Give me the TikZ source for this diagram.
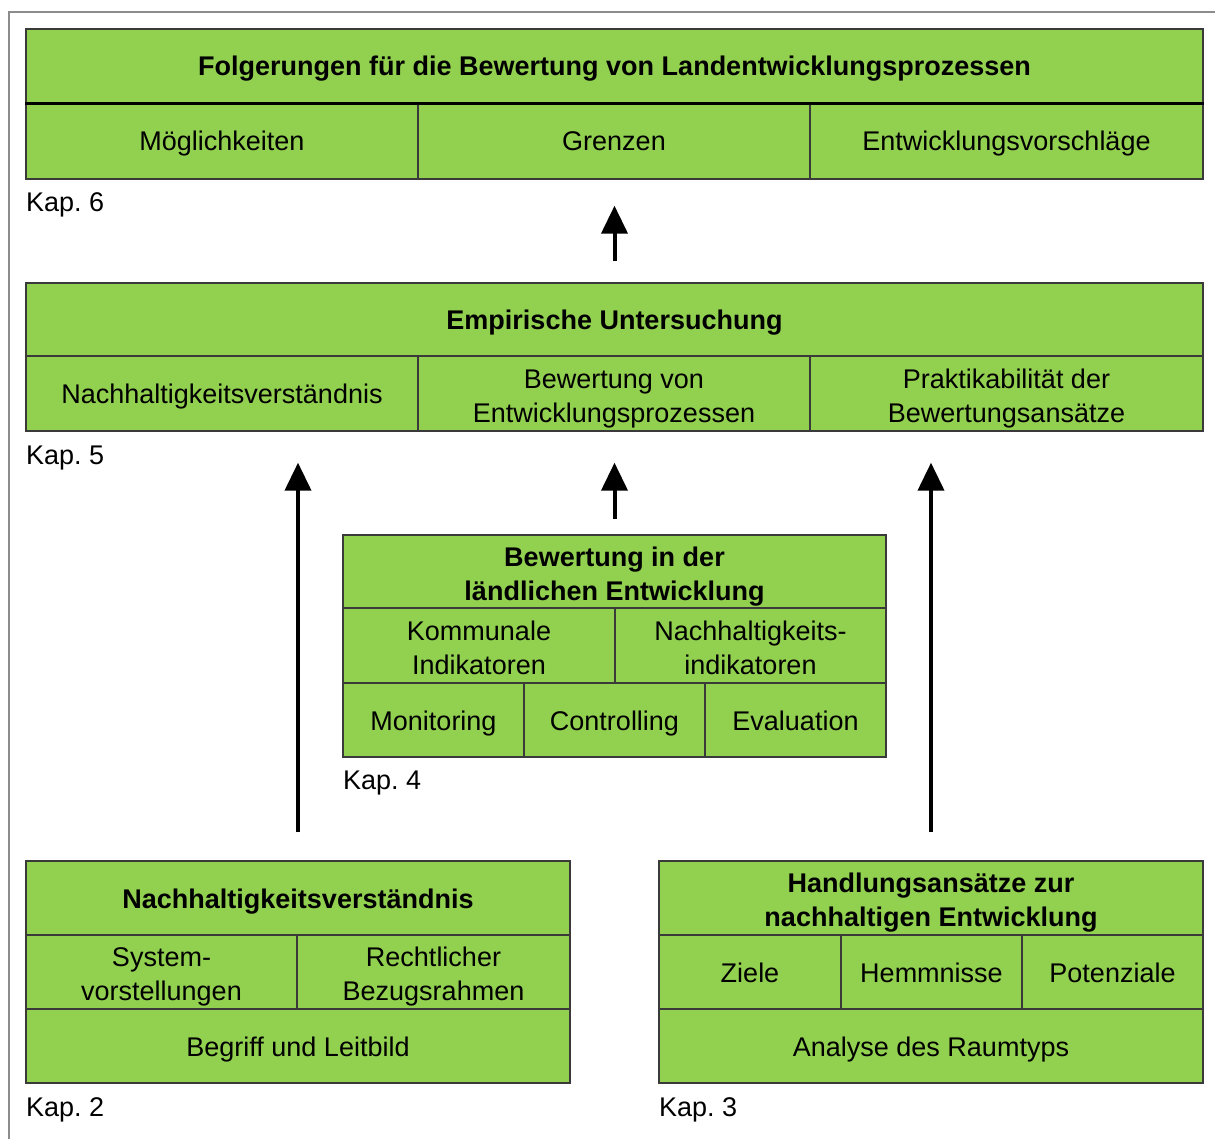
\documentclass[tikz,border=0pt]{standalone}
\usepackage{fontspec}
\setmainfont{Liberation Sans}
\usetikzlibrary{arrows.meta}
\definecolor{cellgreen}{HTML}{92D050}
\definecolor{cellborder}{HTML}{3A3A3A}
\definecolor{framegray}{HTML}{8C8C8C}
\newcommand\topstrut{\rule{0pt}{29pt}}
\tikzset{
  cell/.style={draw=cellborder, line width=1.4pt, fill=cellgreen, rectangle, inner sep=0pt,
    align=center, font=\fontsize{27}{34}\selectfont\frenchspacing,
    execute at begin node={\rule{0pt}{26pt}},
    execute at end node={\rule[-6pt]{0pt}{6pt}}},
  headcell/.style={cell, font=\fontsize{27}{34}\selectfont\frenchspacing\bfseries},
  kaplabel/.style={anchor=base west, inner sep=0pt, font=\fontsize{27}{34}\selectfont\frenchspacing},
  uparrow/.style={line width=4pt, -{Triangle[width=26pt,length=28pt]}},
  sepline/.style={black, line width=2.6pt}
}
\newcommand\cellnamed[7][cell]{\node[#1, minimum width={(#5-#3)*1pt}, minimum height={(#6-#4)*1pt}] (#2) at ({(#3+#5)/2},{(#4+#6)/2}) {#7};}
\begin{document}
\begin{tikzpicture}[x=1pt,y=-1pt]
\useasboundingbox (0,0) rectangle (1215,1139);
% frame
\draw[framegray, line width=1.2pt] (9,1139) -- (9,12) -- (1215,12);

% Kap. 6
\cellnamed[headcell]{k6h}{26}{29}{1203}{103}{Folgerungen für die Bewertung von Landentwicklungsprozessen}
\cellnamed{k6a}{26}{103}{418}{179}{Möglichkeiten}
\cellnamed{k6b}{418}{103}{810}{179}{Grenzen}
\cellnamed{k6c}{810}{103}{1203}{179}{Entwicklungsvorschläge}
\draw[sepline] (k6h.south west) -- (k6h.south east);
\node[kaplabel] (kap6) at (26,212) {Kap. 6};

% Kap. 5
\cellnamed[headcell]{k5h}{26}{283}{1203}{356}{Empirische Untersuchung}
\cellnamed{k5a}{26}{356}{418}{431}{Nachhaltigkeitsverständnis}
\cellnamed{k5b}{418}{356}{810}{431}{\topstrut Bewertung von\\Entwicklungsprozessen}
\cellnamed{k5c}{810}{356}{1203}{431}{\topstrut Praktikabilität der\\Bewertungsansätze}
\node[kaplabel] (kap5) at (26,464) {Kap. 5};

% Kap. 4
\cellnamed[headcell]{k4h}{343}{535}{886}{608}{\topstrut Bewertung in der\\ländlichen Entwicklung}
\cellnamed{k4a}{343}{608}{615}{683}{\topstrut Kommunale\\Indikatoren}
\cellnamed{k4b}{615}{608}{886}{683}{\topstrut Nachhaltigkeits-\\indikatoren}
\cellnamed{k4c}{343}{683}{524}{757}{Monitoring}
\cellnamed{k4d}{524}{683}{705}{757}{Controlling}
\cellnamed{k4e}{705}{683}{886}{757}{Evaluation}
\node[kaplabel] (kap4) at (343,789) {Kap. 4};

% Kap. 2
\cellnamed[headcell]{k2h}{26}{861}{570}{935}{Nachhaltigkeitsverständnis}
\cellnamed{k2a}{26}{935}{297}{1009}{\topstrut System-\\vorstellungen}
\cellnamed{k2b}{297}{935}{570}{1009}{\topstrut Rechtlicher\\Bezugsrahmen}
\cellnamed{k2c}{26}{1009}{570}{1083}{Begriff und Leitbild}
\node[kaplabel] (kap2) at (26,1116) {Kap. 2};

% Kap. 3
\cellnamed[headcell]{k3h}{659}{861}{1203}{935}{\topstrut Handlungsansätze zur\\nachhaltigen Entwicklung}
\cellnamed{k3a}{659}{935}{841}{1009}{Ziele}
\cellnamed{k3b}{841}{935}{1022}{1009}{Hemmnisse}
\cellnamed{k3c}{1022}{935}{1203}{1009}{Potenziale}
\cellnamed{k3d}{659}{1009}{1203}{1083}{Analyse des Raumtyps}
\node[kaplabel] (kap3) at (659,1116) {Kap. 3};

% arrows
\draw[uparrow, shorten <=21pt, shorten >=26pt] (k5h.north) -- (k5h.north |- k6b.south);
\draw[uparrow, shorten <=15pt, shorten >=31pt] (k4h.north) -- (k4h.north |- k5b.south);
\draw[uparrow, shorten <=28pt, shorten >=31pt] (k2h.north) -- (k2h.north |- k5a.south);
\draw[uparrow, shorten <=28pt, shorten >=31pt] (k3h.north) -- (k3h.north |- k5c.south);
\end{tikzpicture}
\end{document}
